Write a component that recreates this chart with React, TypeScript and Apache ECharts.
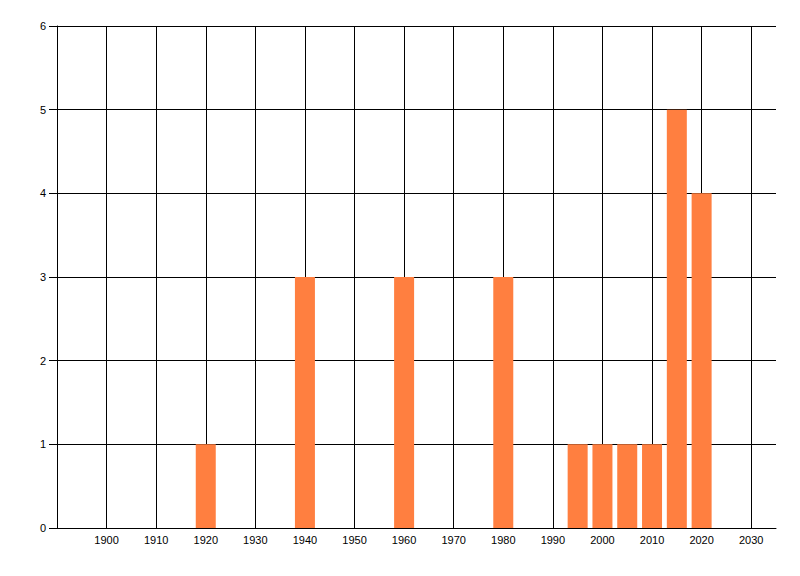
import React, { useEffect, useRef } from 'react';
import * as echarts from 'echarts';

const years = [1920, 1940, 1960, 1980, 1995, 2000, 2005, 2010, 2015, 2020];
const counts = [1, 3, 3, 3, 1, 1, 1, 1, 5, 4];
const xTickLabels = [1900, 1910, 1920, 1930, 1940, 1950, 1960, 1970, 1980, 1990, 2000, 2010, 2020, 2030];
const yTickLabels = [0, 1, 2, 3, 4, 5, 6];

const App = () => {
  const chartRef = useRef<HTMLDivElement>(null);

  useEffect(() => {
    if (!chartRef.current) return;
    const chart = echarts.init(chartRef.current, null, { renderer: 'svg' });

    const font = { fontFamily: 'Liberation Sans', fontSize: 11, color: '#000' };

    chart.setOption({
      animation: false,
      backgroundColor: '#fff',
      grid: { left: 57, top: 26, right: 24, bottom: 48, containLabel: false },
      xAxis: {
        type: 'value',
        min: 1890,
        max: 2035,
        interval: 10,
        axisLine: { show: true, lineStyle: { color: '#000', width: 1 } },
        axisTick: { show: false },
        axisLabel: {
          ...font,
          margin: 6,
          showMinLabel: false,
          showMaxLabel: false,
          formatter: (v: number) => (xTickLabels.includes(v) ? String(v) : ''),
        },
        splitLine: {
          show: true,
          showMinLine: false,
          showMaxLine: false,
          lineStyle: { color: '#000', width: 1 },
        },
      },
      yAxis: {
        type: 'value',
        min: 0,
        max: 6,
        interval: 1,
        axisLine: { show: true, lineStyle: { color: '#000', width: 1 } },
        axisTick: { show: true, length: 8, lineStyle: { color: '#000', width: 1 } },
        axisLabel: {
          ...font,
          margin: 11,
          formatter: (v: number) => (yTickLabels.includes(v) ? String(v) : ''),
        },
        splitLine: { show: true, lineStyle: { color: '#000', width: 1 } },
      },
      series: [
        {
          type: 'bar',
          barWidth: 20,
          itemStyle: { color: '#FF7F40' },
          data: years.map((y, i) => [y, counts[i]]),
        },
      ],
    });

    return () => chart.dispose();
  }, []);

  return (
    <div
      ref={chartRef}
      style={{ position: 'fixed', left: 0, top: 0, width: 800, height: 576, background: '#fff' }}
    />
  );
};

export default App;
